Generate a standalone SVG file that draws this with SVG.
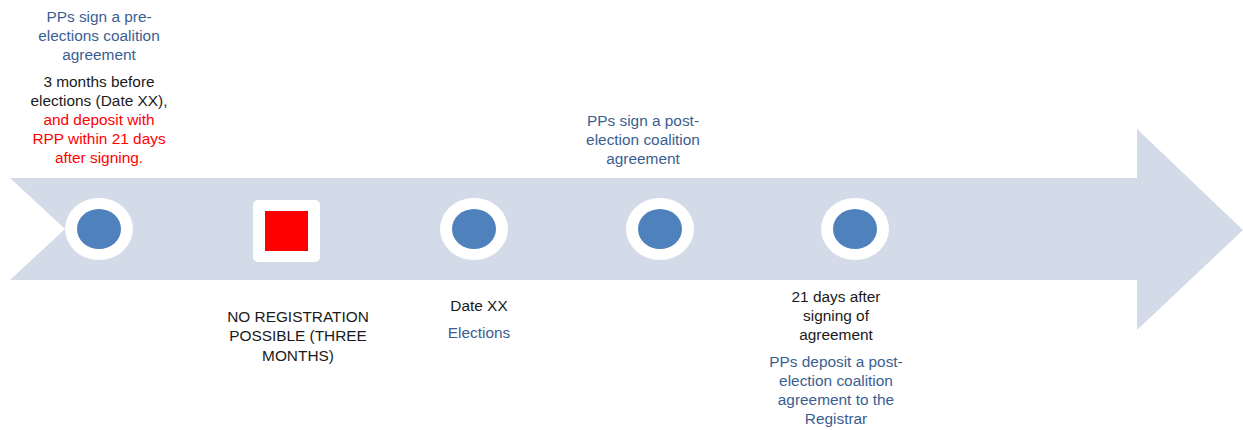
<svg xmlns="http://www.w3.org/2000/svg" width="1243" height="430" viewBox="0 0 1243 430">
<style>
text{font-family:"Liberation Sans","Noto Sans",sans-serif;font-size:15.4px;text-anchor:middle}
.b{fill:#3B5E91}.k{fill:#1a1a1a}.r{fill:#FF0000}
.ring{fill:#FFFFFF}.dot{fill:#4F81BD}
</style>
<rect width="1243" height="430" fill="#FFFFFF"/>
<g id="arrow">
<path d="M10,178 L1137,178 L1137,129 L1243,230 L1137,330 L1137,280 L10,280 L65,229 Z" fill="#D3DAE8"/>
</g>
<g id="connectors"></g>
<g id="n1">
<ellipse class="ring" cx="99" cy="229" rx="34" ry="31"/>
<ellipse class="dot" cx="99" cy="229" rx="22" ry="20"/>
<text class="b" x="99" y="22">PPs sign a pre-</text>
<text class="b" x="99" y="41">elections coalition</text>
<text class="b" x="99" y="60">agreement</text>
<text class="k" x="99" y="87">3 months before</text>
<text class="k" x="99" y="106">elections (Date XX),</text>
<text class="r" x="99" y="125">and deposit with</text>
<text class="r" x="99" y="144">RPP within 21 days</text>
<text class="r" x="99" y="163">after signing.</text>
</g>
<g id="n2">
<rect x="253" y="200" width="67" height="62" rx="5" fill="#FFFFFF"/>
<rect x="265" y="211" width="43" height="40" fill="#FF0000"/>
<text class="k" x="298" y="322">NO REGISTRATION</text>
<text class="k" x="298" y="341">POSSIBLE (THREE</text>
<text class="k" x="298" y="361">MONTHS)</text>
</g>
<g id="n3">
<ellipse class="ring" cx="474" cy="229" rx="34" ry="31"/>
<ellipse class="dot" cx="474" cy="229" rx="22" ry="20"/>
<text class="k" x="479" y="311">Date XX</text>
<text class="b" x="479" y="338">Elections</text>
</g>
<g id="n4">
<ellipse class="ring" cx="660" cy="229" rx="34" ry="31"/>
<ellipse class="dot" cx="660" cy="229" rx="22" ry="20"/>
<text class="b" x="643" y="126">PPs sign a post-</text>
<text class="b" x="643" y="145">election coalition</text>
<text class="b" x="643" y="164">agreement</text>
</g>
<g id="n5">
<ellipse class="ring" cx="855" cy="229" rx="34" ry="31"/>
<ellipse class="dot" cx="855" cy="229" rx="22" ry="20"/>
<text class="k" x="836" y="302">21 days after</text>
<text class="k" x="836" y="321">signing of</text>
<text class="k" x="836" y="340">agreement</text>
<text class="b" x="836" y="367">PPs deposit a post-</text>
<text class="b" x="836" y="386">election coalition</text>
<text class="b" x="836" y="405">agreement to the</text>
<text class="b" x="836" y="424">Registrar</text>
</g>
</svg>
